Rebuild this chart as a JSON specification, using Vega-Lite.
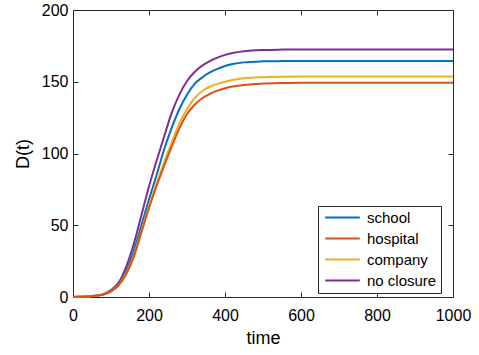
{
  "$schema": "https://vega.github.io/schema/vega-lite/v6.json",
  "autosize": {"type": "none"},
  "width": 380,
  "height": 287,
  "padding": {"left": 73, "top": 10, "right": 26, "bottom": 58},
  "background": "white",
  "config": {
    "font": "Liberation Sans",
    "view": {"stroke": null},
    "axis": {
      "grid": false,
      "domainColor": "#262626",
      "domainWidth": 1,
      "tickColor": "#262626",
      "tickWidth": 1,
      "tickSize": -5,
      "labelFlush": false,
      "labelColor": "#000000",
      "labelFont": "Liberation Sans",
      "labelFontSize": 16,
      "titleFont": "Liberation Sans",
      "titleFontSize": 18,
      "titleFontWeight": "normal",
      "titleColor": "#000000"
    }
  },
  "datasets": {
    "curves": [
      {"t": 0, "D": 0, "s": "no closure"}, {"t": 20, "D": 0.15, "s": "no closure"}, {"t": 40, "D": 0.4, "s": "no closure"}, {"t": 60, "D": 0.9, "s": "no closure"}, {"t": 80, "D": 2.0, "s": "no closure"}, {"t": 100, "D": 4.8, "s": "no closure"}, {"t": 120, "D": 10, "s": "no closure"}, {"t": 140, "D": 21, "s": "no closure"}, {"t": 160, "D": 37, "s": "no closure"}, {"t": 180, "D": 57, "s": "no closure"}, {"t": 200, "D": 77, "s": "no closure"}, {"t": 220, "D": 95, "s": "no closure"}, {"t": 240, "D": 112, "s": "no closure"}, {"t": 260, "D": 128.5, "s": "no closure"}, {"t": 280, "D": 141, "s": "no closure"}, {"t": 300, "D": 150.5, "s": "no closure"}, {"t": 320, "D": 156.8, "s": "no closure"}, {"t": 340, "D": 161.2, "s": "no closure"}, {"t": 360, "D": 164.4, "s": "no closure"}, {"t": 380, "D": 166.8, "s": "no closure"}, {"t": 400, "D": 168.7, "s": "no closure"}, {"t": 420, "D": 170, "s": "no closure"}, {"t": 450, "D": 171.2, "s": "no closure"}, {"t": 500, "D": 172.1, "s": "no closure"}, {"t": 550, "D": 172.4, "s": "no closure"}, {"t": 600, "D": 172.5, "s": "no closure"}, {"t": 700, "D": 172.5, "s": "no closure"}, {"t": 800, "D": 172.5, "s": "no closure"}, {"t": 900, "D": 172.5, "s": "no closure"}, {"t": 1000, "D": 172.5, "s": "no closure"},

      {"t": 0, "D": 0, "s": "school"}, {"t": 20, "D": 0.15, "s": "school"}, {"t": 40, "D": 0.35, "s": "school"}, {"t": 60, "D": 0.8, "s": "school"}, {"t": 80, "D": 1.8, "s": "school"}, {"t": 100, "D": 4.2, "s": "school"}, {"t": 120, "D": 8.8, "s": "school"}, {"t": 140, "D": 18, "s": "school"}, {"t": 160, "D": 32, "s": "school"}, {"t": 180, "D": 50, "s": "school"}, {"t": 200, "D": 68, "s": "school"}, {"t": 220, "D": 85, "s": "school"}, {"t": 240, "D": 103, "s": "school"}, {"t": 260, "D": 118, "s": "school"}, {"t": 280, "D": 131, "s": "school"}, {"t": 300, "D": 141, "s": "school"}, {"t": 320, "D": 148.5, "s": "school"}, {"t": 340, "D": 153, "s": "school"}, {"t": 360, "D": 156.5, "s": "school"}, {"t": 380, "D": 159, "s": "school"}, {"t": 400, "D": 161, "s": "school"}, {"t": 420, "D": 162.3, "s": "school"}, {"t": 450, "D": 163.5, "s": "school"}, {"t": 500, "D": 164.2, "s": "school"}, {"t": 550, "D": 164.4, "s": "school"}, {"t": 600, "D": 164.5, "s": "school"}, {"t": 700, "D": 164.5, "s": "school"}, {"t": 800, "D": 164.5, "s": "school"}, {"t": 900, "D": 164.5, "s": "school"}, {"t": 1000, "D": 164.5, "s": "school"},

      {"t": 0, "D": 0, "s": "company"}, {"t": 20, "D": 0.15, "s": "company"}, {"t": 40, "D": 0.35, "s": "company"}, {"t": 60, "D": 0.8, "s": "company"}, {"t": 80, "D": 1.7, "s": "company"}, {"t": 100, "D": 4.0, "s": "company"}, {"t": 120, "D": 8.3, "s": "company"}, {"t": 140, "D": 16.5, "s": "company"}, {"t": 160, "D": 29, "s": "company"}, {"t": 180, "D": 46, "s": "company"}, {"t": 200, "D": 63, "s": "company"}, {"t": 220, "D": 79, "s": "company"}, {"t": 240, "D": 94, "s": "company"}, {"t": 260, "D": 108, "s": "company"}, {"t": 280, "D": 121, "s": "company"}, {"t": 300, "D": 131, "s": "company"}, {"t": 320, "D": 138.5, "s": "company"}, {"t": 340, "D": 143.5, "s": "company"}, {"t": 360, "D": 146.5, "s": "company"}, {"t": 380, "D": 148.5, "s": "company"}, {"t": 400, "D": 150, "s": "company"}, {"t": 420, "D": 151.2, "s": "company"}, {"t": 450, "D": 152.4, "s": "company"}, {"t": 500, "D": 153.2, "s": "company"}, {"t": 550, "D": 153.5, "s": "company"}, {"t": 600, "D": 153.7, "s": "company"}, {"t": 700, "D": 153.7, "s": "company"}, {"t": 800, "D": 153.7, "s": "company"}, {"t": 900, "D": 153.7, "s": "company"}, {"t": 1000, "D": 153.7, "s": "company"},

      {"t": 0, "D": 0, "s": "hospital"}, {"t": 20, "D": 0.15, "s": "hospital"}, {"t": 40, "D": 0.35, "s": "hospital"}, {"t": 60, "D": 0.8, "s": "hospital"}, {"t": 80, "D": 1.7, "s": "hospital"}, {"t": 100, "D": 3.9, "s": "hospital"}, {"t": 120, "D": 8.1, "s": "hospital"}, {"t": 140, "D": 16, "s": "hospital"}, {"t": 160, "D": 28, "s": "hospital"}, {"t": 180, "D": 45, "s": "hospital"}, {"t": 200, "D": 62, "s": "hospital"}, {"t": 220, "D": 77.5, "s": "hospital"}, {"t": 240, "D": 91.5, "s": "hospital"}, {"t": 260, "D": 105, "s": "hospital"}, {"t": 280, "D": 117.5, "s": "hospital"}, {"t": 300, "D": 127.5, "s": "hospital"}, {"t": 320, "D": 134, "s": "hospital"}, {"t": 340, "D": 138.5, "s": "hospital"}, {"t": 360, "D": 141.5, "s": "hospital"}, {"t": 380, "D": 143.8, "s": "hospital"}, {"t": 400, "D": 145.5, "s": "hospital"}, {"t": 420, "D": 146.7, "s": "hospital"}, {"t": 450, "D": 147.8, "s": "hospital"}, {"t": 500, "D": 148.7, "s": "hospital"}, {"t": 550, "D": 149.1, "s": "hospital"}, {"t": 600, "D": 149.3, "s": "hospital"}, {"t": 700, "D": 149.3, "s": "hospital"}, {"t": 800, "D": 149.3, "s": "hospital"}, {"t": 900, "D": 149.3, "s": "hospital"}, {"t": 1000, "D": 149.3, "s": "hospital"}
    ]
  },
  "data": {"name": "curves"},
  "layer": [
    {
      "mark": {"type": "line", "strokeWidth": 2, "interpolate": "monotone"},
      "encoding": {
        "x": {
          "field": "t", "type": "quantitative",
          "scale": {"domain": [0, 1000], "nice": false},
          "axis": {"orient": "bottom", "values": [0, 200, 400, 600, 800, 1000], "format": "d", "title": "time", "labelPadding": 15, "titlePadding": 6}
        },
        "y": {
          "field": "D", "type": "quantitative",
          "scale": {"domain": [0, 200], "nice": false},
          "axis": {"orient": "left", "values": [0, 50, 100, 150, 200], "format": "d", "title": "D(t)", "labelPadding": 10, "titlePadding": 9}
        },
        "color": {
          "field": "s", "type": "nominal",
          "scale": {
            "domain": ["school", "hospital", "company", "no closure"],
            "range": ["#0072BD", "#D95319", "#EDB120", "#7E2F8E"]
          },
          "legend": {
            "title": null,
            "orient": "none",
            "legendX": 245,
            "legendY": 196,
            "symbolType": "M-1,0H7",
            "symbolSize": 75,
            "symbolStrokeWidth": 2,
            "labelFontSize": 15,
            "labelFont": "Liberation Sans",
            "labelColor": "#000000",
            "labelOffset": 30,
            "rowPadding": 5,
            "padding": 4,
            "strokeColor": "#262626",
            "fillColor": "white"
          }
        },
        "order": {"field": "s"}
      }
    },
    {
      "mark": {"type": "line", "strokeOpacity": 0},
      "encoding": {
        "x": {
          "field": "t", "type": "quantitative",
          "axis": {"orient": "top", "values": [0, 200, 400, 600, 800, 1000], "labels": false, "title": null}
        },
        "y": {
          "field": "D", "type": "quantitative",
          "axis": {"orient": "right", "values": [0, 50, 100, 150, 200], "labels": false, "title": null}
        },
        "detail": {"field": "s"}
      }
    }
  ],
  "resolve": {"axis": {"x": "independent", "y": "independent"}}
}
